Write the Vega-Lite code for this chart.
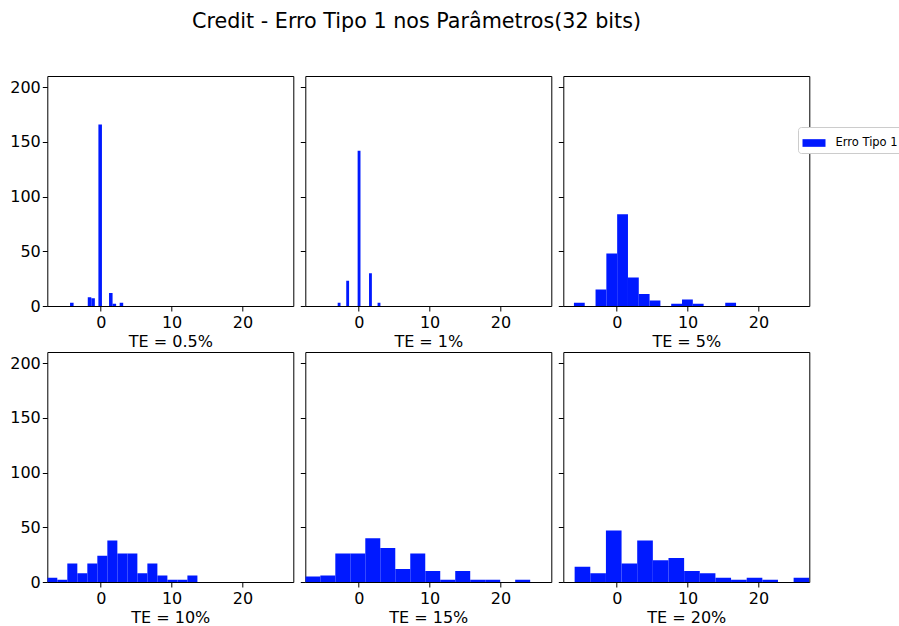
{
  "$schema": "https://vega.github.io/schema/vega-lite/v6.json",
  "autosize": {"type": "none"},
  "padding": {"left": 47.3, "top": 76, "right": 851.7, "bottom": 550},
  "title": {
    "text": "Credit - Erro Tipo 1 nos Parâmetros(32 bits)",
    "anchor": "start",
    "frame": "group",
    "dx": 144.7,
    "fontSize": 20.7,
    "fontWeight": "normal",
    "font": "DejaVu Sans",
    "color": "#000000",
    "offset": 43
  },
  "data": {
    "values": [
      {"te": "0.5%", "x0": -4.33, "x1": -3.83, "n": 3},
      {"te": "0.5%", "x0": -1.83, "x1": -1.33, "n": 8},
      {"te": "0.5%", "x0": -1.33, "x1": -0.83, "n": 7},
      {"te": "0.5%", "x0": -0.33, "x1": 0.17, "n": 166},
      {"te": "0.5%", "x0": 1.17, "x1": 1.67, "n": 12},
      {"te": "0.5%", "x0": 1.67, "x1": 2.17, "n": 2},
      {"te": "0.5%", "x0": 2.67, "x1": 3.17, "n": 3},

      {"te": "1%", "x0": -2.97, "x1": -2.568, "n": 3},
      {"te": "1%", "x0": -1.764, "x1": -1.362, "n": 23},
      {"te": "1%", "x0": -0.156, "x1": 0.246, "n": 142},
      {"te": "1%", "x0": 1.452, "x1": 1.854, "n": 30},
      {"te": "1%", "x0": 2.658, "x1": 3.06, "n": 3},

      {"te": "5%", "x0": -6.04, "x1": -4.515, "n": 3},
      {"te": "5%", "x0": -2.99, "x1": -1.465, "n": 15},
      {"te": "5%", "x0": -1.465, "x1": 0.06, "n": 48},
      {"te": "5%", "x0": 0.06, "x1": 1.585, "n": 84},
      {"te": "5%", "x0": 1.585, "x1": 3.11, "n": 26},
      {"te": "5%", "x0": 3.11, "x1": 4.635, "n": 11},
      {"te": "5%", "x0": 4.635, "x1": 6.16, "n": 5},
      {"te": "5%", "x0": 7.685, "x1": 9.21, "n": 2},
      {"te": "5%", "x0": 9.21, "x1": 10.735, "n": 6},
      {"te": "5%", "x0": 10.735, "x1": 12.26, "n": 2},
      {"te": "5%", "x0": 15.31, "x1": 16.835, "n": 3},

      {"te": "10%", "x0": -7.54, "x1": -6.128, "n": 4},
      {"te": "10%", "x0": -6.128, "x1": -4.716, "n": 2},
      {"te": "10%", "x0": -4.716, "x1": -3.304, "n": 17},
      {"te": "10%", "x0": -3.304, "x1": -1.892, "n": 8},
      {"te": "10%", "x0": -1.892, "x1": -0.48, "n": 17},
      {"te": "10%", "x0": -0.48, "x1": 0.932, "n": 24},
      {"te": "10%", "x0": 0.932, "x1": 2.344, "n": 38},
      {"te": "10%", "x0": 2.344, "x1": 3.756, "n": 26},
      {"te": "10%", "x0": 3.756, "x1": 5.168, "n": 26},
      {"te": "10%", "x0": 5.168, "x1": 6.58, "n": 8},
      {"te": "10%", "x0": 6.58, "x1": 7.992, "n": 17},
      {"te": "10%", "x0": 7.992, "x1": 9.404, "n": 6},
      {"te": "10%", "x0": 9.404, "x1": 10.816, "n": 2},
      {"te": "10%", "x0": 10.816, "x1": 12.228, "n": 2},
      {"te": "10%", "x0": 12.228, "x1": 13.64, "n": 6},

      {"te": "15%", "x0": -7.535, "x1": -5.42, "n": 5},
      {"te": "15%", "x0": -5.42, "x1": -3.305, "n": 6},
      {"te": "15%", "x0": -3.305, "x1": -1.19, "n": 26},
      {"te": "15%", "x0": -1.19, "x1": 0.925, "n": 26},
      {"te": "15%", "x0": 0.925, "x1": 3.04, "n": 40},
      {"te": "15%", "x0": 3.04, "x1": 5.155, "n": 31},
      {"te": "15%", "x0": 5.155, "x1": 7.27, "n": 12},
      {"te": "15%", "x0": 7.27, "x1": 9.385, "n": 26},
      {"te": "15%", "x0": 9.385, "x1": 11.5, "n": 10},
      {"te": "15%", "x0": 11.5, "x1": 13.615, "n": 2},
      {"te": "15%", "x0": 13.615, "x1": 15.73, "n": 10},
      {"te": "15%", "x0": 15.73, "x1": 17.845, "n": 2},
      {"te": "15%", "x0": 17.845, "x1": 19.96, "n": 2},
      {"te": "15%", "x0": 22.075, "x1": 24.19, "n": 2},

      {"te": "20%", "x0": -5.94, "x1": -3.733, "n": 14},
      {"te": "20%", "x0": -3.733, "x1": -1.526, "n": 8},
      {"te": "20%", "x0": -1.526, "x1": 0.681, "n": 47},
      {"te": "20%", "x0": 0.681, "x1": 2.888, "n": 17},
      {"te": "20%", "x0": 2.888, "x1": 5.095, "n": 38},
      {"te": "20%", "x0": 5.095, "x1": 7.302, "n": 20},
      {"te": "20%", "x0": 7.302, "x1": 9.509, "n": 22},
      {"te": "20%", "x0": 9.509, "x1": 11.716, "n": 10},
      {"te": "20%", "x0": 11.716, "x1": 13.923, "n": 8},
      {"te": "20%", "x0": 13.923, "x1": 16.13, "n": 4},
      {"te": "20%", "x0": 16.13, "x1": 18.337, "n": 2},
      {"te": "20%", "x0": 18.337, "x1": 20.544, "n": 4},
      {"te": "20%", "x0": 20.544, "x1": 22.751, "n": 2},
      {"te": "20%", "x0": 24.958, "x1": 27.165, "n": 4}
    ]
  },
  "columns": 3,
  "spacing": {"row": 46, "column": 12},
  "bounds": "flush",
  "concat": [
    {
      "width": 246, "height": 230,
      "transform": [{"filter": "datum.te === '0.5%'"}],
      "mark": {"type": "bar", "clip": true},
      "encoding": {
        "x": {"field": "x0", "type": "quantitative", "scale": {"domain": [-7.54, 27.17], "nice": false, "zero": false}, "axis": {"values": [0, 10, 20], "title": "TE = 0.5%"}},
        "x2": {"field": "x1"},
        "y": {"field": "n", "type": "quantitative", "scale": {"domain": [0, 210.3], "nice": false}, "axis": {"values": [0, 50, 100, 150, 200], "title": null}},
        "y2": {"datum": 0},
        "color": {"datum": "Erro Tipo 1", "type": "nominal", "scale": {"range": ["#0019ff"]}, "title": null,
          "legend": {
            "orient": "none", "legendX": 750.7, "legendY": 51,
            "symbolType": "M-1,-0.333H1V0.333H-1Z", "symbolSize": 529,
            "symbolStrokeColor": "#000000", "symbolStrokeWidth": 1,
            "labelFontSize": 11.5, "labelFont": "DejaVu Sans", "labelColor": "#000000", "labelOffset": 10,
            "padding": 4.5, "strokeColor": "#cccccc", "fillColor": "#ffffff", "cornerRadius": 3,
            "encode": {"symbols": {"update": {"stroke": {"value": "#000000"}, "strokeWidth": {"value": 1}, "opacity": {"value": 1}}}}
          }}
      }
    },
    {
      "width": 246, "height": 230,
      "transform": [{"filter": "datum.te === '1%'"}],
      "mark": {"type": "bar", "clip": true},
      "encoding": {
        "x": {"field": "x0", "type": "quantitative", "scale": {"domain": [-7.54, 27.17], "nice": false, "zero": false}, "axis": {"values": [0, 10, 20], "title": "TE = 1%"}},
        "x2": {"field": "x1"},
        "y": {"field": "n", "type": "quantitative", "scale": {"domain": [0, 210.3], "nice": false}, "axis": {"values": [0, 50, 100, 150, 200], "labels": false, "title": null}},
        "y2": {"datum": 0},
        "color": {"datum": "Erro Tipo 1", "type": "nominal", "title": null}
      }
    },
    {
      "width": 246, "height": 230,
      "transform": [{"filter": "datum.te === '5%'"}],
      "mark": {"type": "bar", "clip": true},
      "encoding": {
        "x": {"field": "x0", "type": "quantitative", "scale": {"domain": [-7.54, 27.17], "nice": false, "zero": false}, "axis": {"values": [0, 10, 20], "title": "TE = 5%"}},
        "x2": {"field": "x1"},
        "y": {"field": "n", "type": "quantitative", "scale": {"domain": [0, 210.3], "nice": false}, "axis": {"values": [0, 50, 100, 150, 200], "labels": false, "title": null}},
        "y2": {"datum": 0},
        "color": {"datum": "Erro Tipo 1", "type": "nominal", "title": null}
      }
    },
    {
      "width": 246, "height": 230,
      "transform": [{"filter": "datum.te === '10%'"}],
      "mark": {"type": "bar", "clip": true},
      "encoding": {
        "x": {"field": "x0", "type": "quantitative", "scale": {"domain": [-7.54, 27.17], "nice": false, "zero": false}, "axis": {"values": [0, 10, 20], "title": "TE = 10%"}},
        "x2": {"field": "x1"},
        "y": {"field": "n", "type": "quantitative", "scale": {"domain": [0, 210.3], "nice": false}, "axis": {"values": [0, 50, 100, 150, 200], "title": null}},
        "y2": {"datum": 0},
        "color": {"datum": "Erro Tipo 1", "type": "nominal", "title": null}
      }
    },
    {
      "width": 246, "height": 230,
      "transform": [{"filter": "datum.te === '15%'"}],
      "mark": {"type": "bar", "clip": true},
      "encoding": {
        "x": {"field": "x0", "type": "quantitative", "scale": {"domain": [-7.54, 27.17], "nice": false, "zero": false}, "axis": {"values": [0, 10, 20], "title": "TE = 15%"}},
        "x2": {"field": "x1"},
        "y": {"field": "n", "type": "quantitative", "scale": {"domain": [0, 210.3], "nice": false}, "axis": {"values": [0, 50, 100, 150, 200], "labels": false, "title": null}},
        "y2": {"datum": 0},
        "color": {"datum": "Erro Tipo 1", "type": "nominal", "title": null}
      }
    },
    {
      "width": 246, "height": 230,
      "transform": [{"filter": "datum.te === '20%'"}],
      "mark": {"type": "bar", "clip": true},
      "encoding": {
        "x": {"field": "x0", "type": "quantitative", "scale": {"domain": [-7.54, 27.17], "nice": false, "zero": false}, "axis": {"values": [0, 10, 20], "title": "TE = 20%"}},
        "x2": {"field": "x1"},
        "y": {"field": "n", "type": "quantitative", "scale": {"domain": [0, 210.3], "nice": false}, "axis": {"values": [0, 50, 100, 150, 200], "labels": false, "title": null}},
        "y2": {"datum": 0},
        "color": {"datum": "Erro Tipo 1", "type": "nominal", "title": null}
      }
    }
  ],
  "config": {
    "font": "DejaVu Sans",
    "view": {"stroke": "#000000", "strokeWidth": 1},
    "bar": {"strokeWidth": 0},
    "axis": {
      "domain": false,
      "grid": false,
      "ticks": true,
      "tickColor": "#000000",
      "tickSize": 5,
      "tickWidth": 1,
      "labelColor": "#000000",
      "labelFont": "DejaVu Sans",
      "labelFontSize": 16,
      "titleFont": "DejaVu Sans",
      "titleFontSize": 16,
      "titleFontWeight": "normal",
      "titleColor": "#000000"
    },
    "axisX": {"labelPadding": 3, "titlePadding": 3, "labelFlush": false},
    "axisY": {"labelPadding": 2}
  }
}
